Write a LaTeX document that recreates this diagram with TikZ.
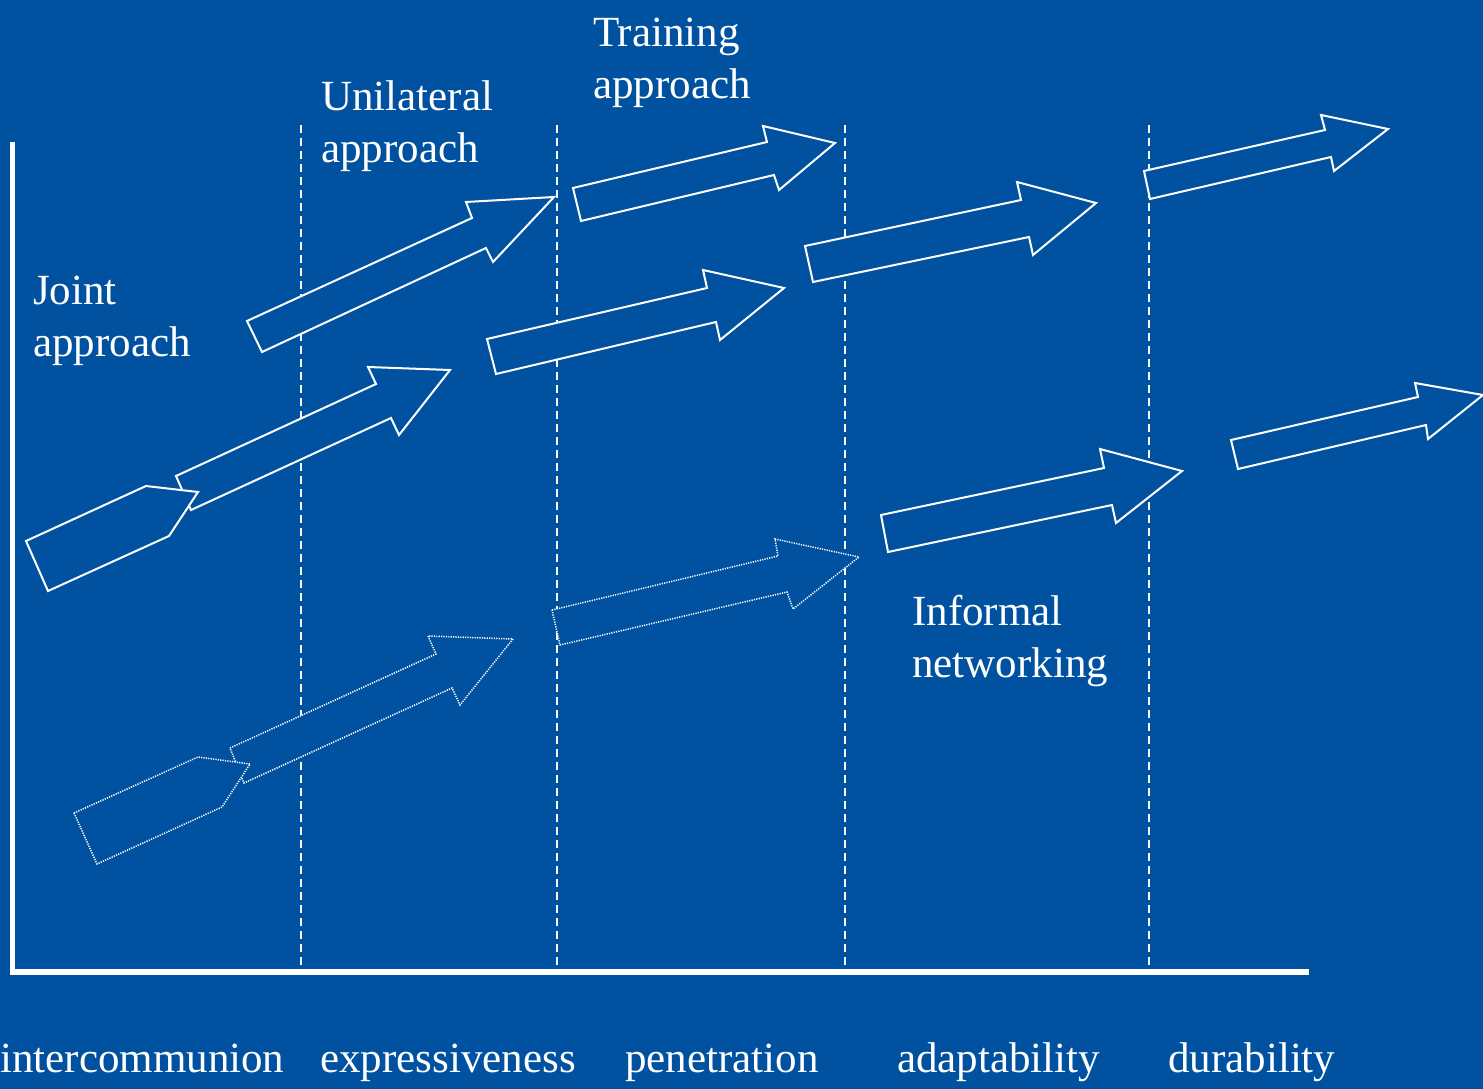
\documentclass[tikz,border=0pt]{standalone}
\usepackage{fontspec}
\setmainfont{Liberation Serif}
\definecolor{slideblue}{RGB}{0,82,160}
\begin{document}
\begin{tikzpicture}
  [x=1pt, y=-1pt,
   caption/.style={text=white, font=\fontsize{43}{52}\selectfont, inner sep=0pt, align=left, anchor=base west},
   block/.style={draw=white, line width=2pt, fill=slideblue, line join=miter},
   faint/.style={block, line width=1.5pt, dash pattern=on 1.2pt off 1.2pt},
   stage/.style={white, line width=1.5pt, dash pattern=on 8pt off 5pt}]
  \fill[slideblue] (0,0) rectangle (1483,1089);
  \useasboundingbox (0,0) rectangle (1483,1089);
  % stage borders
  \foreach \x in {301, 557, 845, 1149}
    \draw[stage] (\x,125) -- (\x,968);
  % axes
  \draw[white, line width=5pt] (12,142) -- (12,972);
  \draw[white, line width=6pt] (10,972) -- (1309,972);
  % captions (base = last line)
  \node[caption](joint) at (33,356) {Joint\\approach};
  \node[caption](unilateral) at (321,163) {Unilateral\\approach};
  \node[caption](training) at (593,99) {Training\\approach};
  \node[caption](informal) at (912,677) {Informal\\networking};
  \node[caption](s1) at (0,1072) {intercommunion};
  \node[caption](s2) at (320,1072) {expressiveness};
  \node[caption](s3) at (625,1072) {penetration};
  \node[caption](s4) at (897,1072) {adaptability};
  \node[caption](s5) at (1168,1072) {durability};
  % solid arrows
  \draw[block] (176,476) -- (376,384) -- (368,367) -- (450,370) -- (399,435) -- (391,418) -- (191,510) -- cycle;
  \draw[block] (26,541) -- (146,486) -- (198,492) -- (169,536) -- (48,591) -- cycle;
  \draw[block] (247,321) -- (472,218) -- (466,202) -- (554,197) -- (493,262) -- (486,248) -- (262,352) -- cycle;
  \draw[block] (487,339) -- (707,288) -- (703,270) -- (784,288) -- (720,340) -- (716,322) -- (496,374) -- cycle;
  \draw[block] (573,188) -- (767,142) -- (763,126) -- (835,143) -- (779,190) -- (774,175) -- (581,221) -- cycle;
  \draw[block] (805,246) -- (1021,200) -- (1017,182) -- (1096,203) -- (1033,255) -- (1029,237) -- (813,282) -- cycle;
  \draw[block] (1144,171) -- (1325,130) -- (1321,115) -- (1388,129) -- (1334,171) -- (1331,157) -- (1150,199) -- cycle;
  \draw[block] (881,515) -- (1104,468) -- (1100,449) -- (1182,471) -- (1116,523) -- (1112,505) -- (888,552) -- cycle;
  \draw[block] (1231,440) -- (1418,397) -- (1415,383) -- (1483,395) -- (1428,439) -- (1426,425) -- (1238,469) -- cycle;
  % dotted arrows
  \draw[faint] (230,748) -- (436,654) -- (428,636) -- (513,639) -- (460,705) -- (452,688) -- (244,783) -- cycle;
  \draw[faint] (74,813) -- (198,757) -- (250,764) -- (222,807) -- (97,864) -- cycle;
  \draw[faint] (552,610) -- (778,556) -- (775,539) -- (859,557) -- (793,609) -- (787,592) -- (560,645) -- cycle;
\end{tikzpicture}
\end{document}
